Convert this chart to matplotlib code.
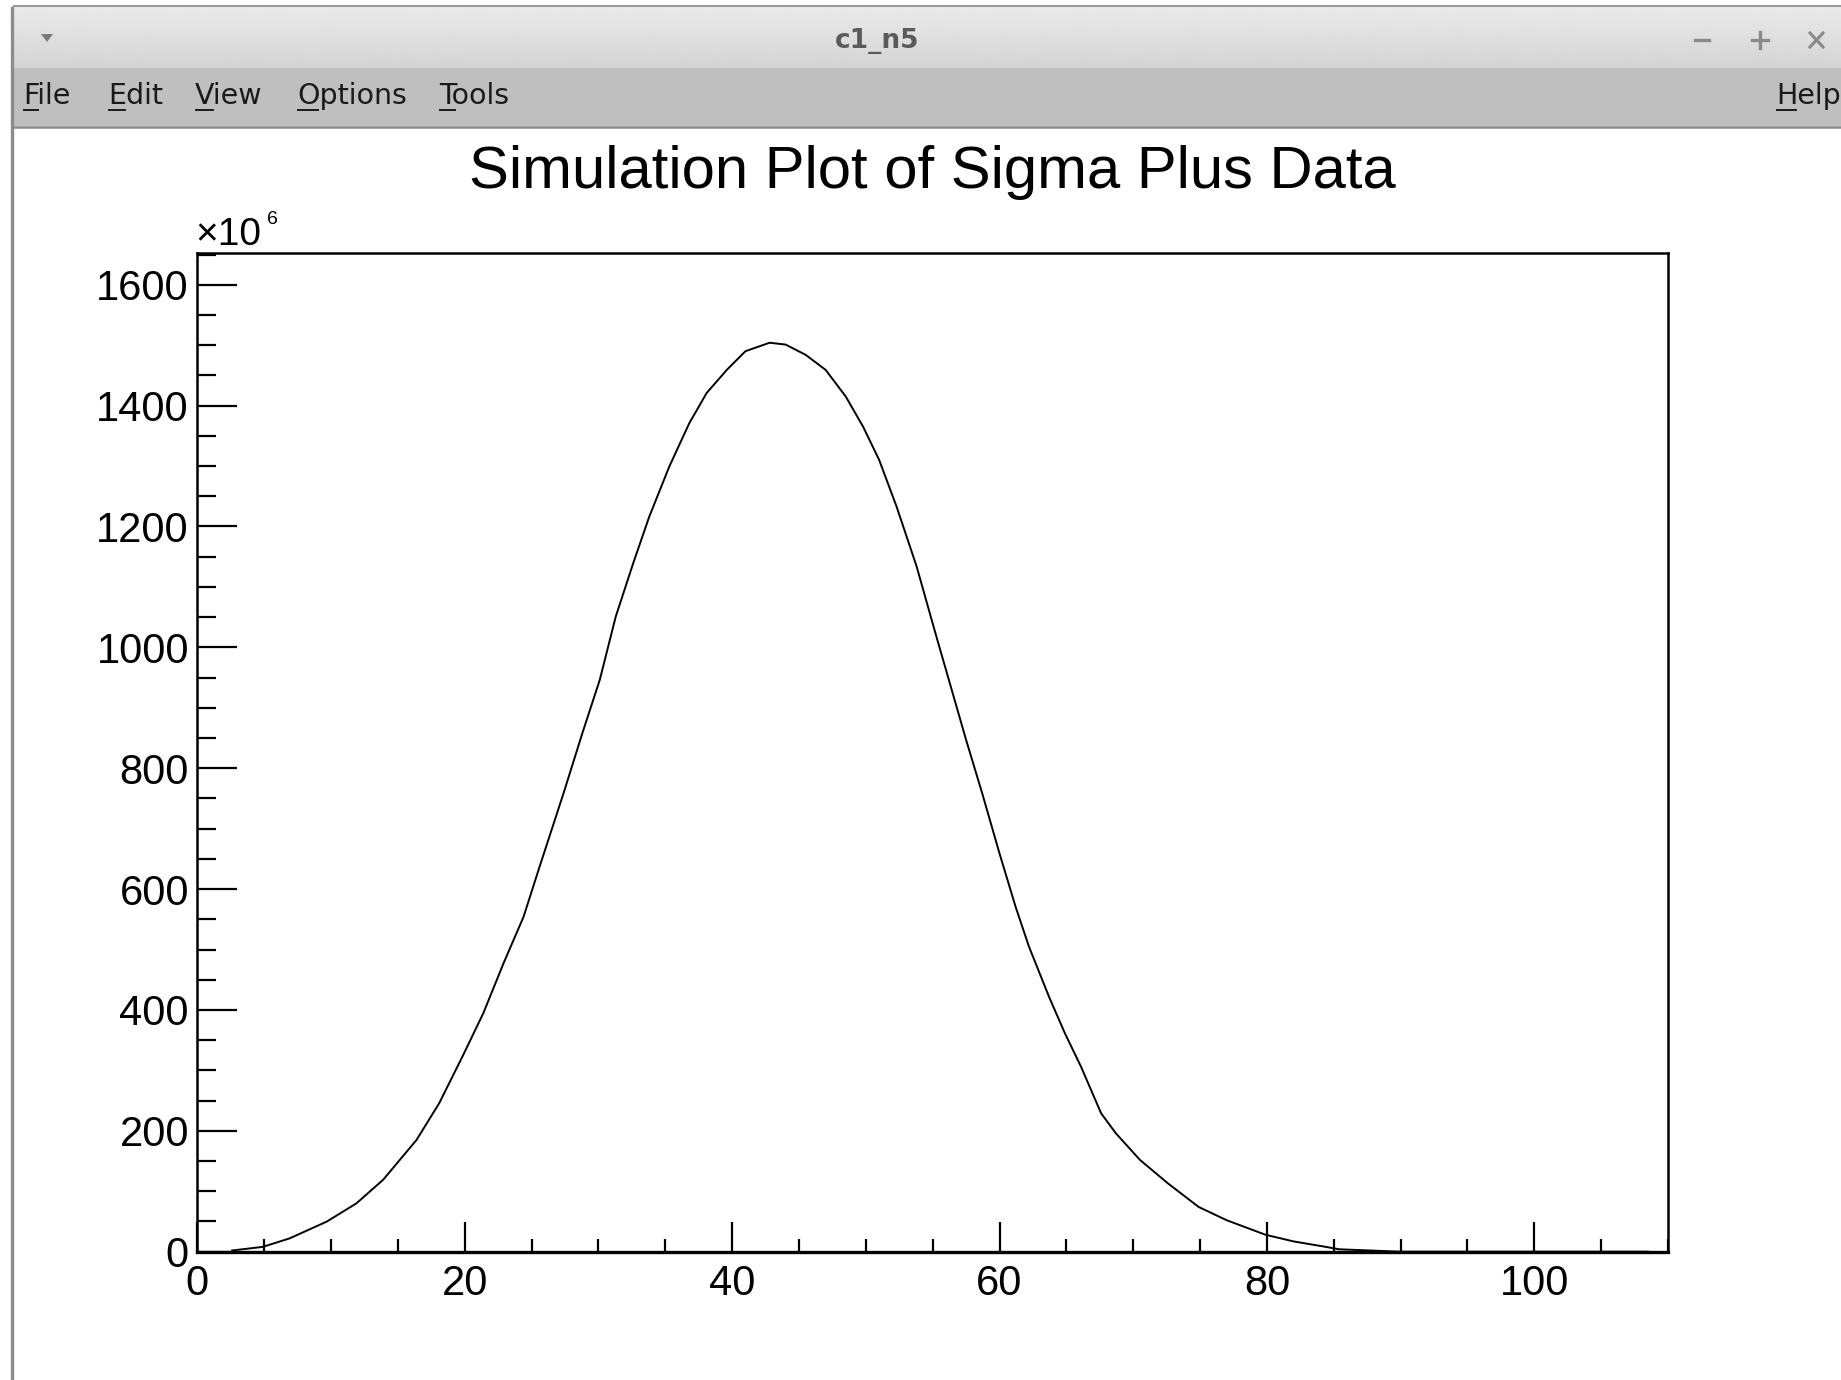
"""ROOT canvas screenshot: simulation plot of Sigma Plus data."""

import matplotlib

matplotlib.use("Agg")
import matplotlib.pyplot as plt
import numpy as np
from matplotlib.patches import Polygon, Rectangle
from matplotlib.ticker import MultipleLocator

# curve (x in axis units, y in units of 1e6)
x_vals = [2.6, 4.9, 6.9, 9.7, 11.9, 13.9, 16.4, 18.1, 19.9, 21.4, 22.9, 24.4,
          25.6, 27.4, 28.8, 30.1, 31.3, 32.6, 33.8, 35.3, 36.8, 38.1, 39.6, 41.0,
          42.8, 44.0, 45.5, 47.0, 48.5, 49.8, 51.0, 52.3, 53.8, 55.2, 56.5, 57.5,
          58.7, 60.0, 61.2, 62.2, 63.7, 64.9, 66.1, 67.6, 68.7, 70.5, 72.6, 74.9,
          77.0, 79.9, 82.0, 84.4, 85.4, 90.0, 95.0, 100.0, 105.0, 108.5]
y_vals = [2, 8, 22, 50, 80, 119, 185, 246, 326, 395, 477, 554,
          637, 759, 858, 946, 1051, 1139, 1216, 1299, 1371, 1421, 1459, 1490,
          1504, 1501, 1484, 1459, 1415, 1365, 1310, 1233, 1134, 1024, 924, 847,
          759, 659, 571, 505, 422, 361, 306, 229, 196, 152, 113, 74,
          52, 28, 17, 8, 4, 0, 0, 0, 0, 0]

title = "Simulation Plot of Sigma Plus Data"
window_title = "c1_n5"
menu_items = [("File", 23), ("Edit", 108), ("View", 195), ("Options", 297),
              ("Tools", 439), ("Help", 1776)]

W, H = 1841, 1380
SANS = ["Liberation Sans", "DejaVu Sans"]


def _draw_chrome(fig, chrome):
    # title bar with a soft vertical gradient
    grad = np.linspace(0.92, 0.83, 64)[:, None]
    chrome.imshow(grad, extent=(12, W, 68, 6), aspect="auto", cmap="gray",
                  vmin=0, vmax=1, interpolation="bilinear", zorder=1)
    chrome.add_patch(Rectangle((12, 68), W - 12, 58, facecolor="#bfbfbf",
                               edgecolor="none", zorder=1))
    chrome.plot([14, W], [6, 6], color="#9a9a9a", lw=1.5, zorder=2)
    chrome.plot([12, W], [126.5, 126.5], color="#8a8a8a", lw=1.8, zorder=2)
    chrome.plot([12, 12], [8, H], color="#8c8c8c", lw=2.4, zorder=2)

    chrome.add_patch(Polygon([(41, 34), (53, 34), (47, 42)], closed=True,
                             facecolor="#7a7a7a", edgecolor="none", zorder=3))
    chrome.text(877, 41, window_title, ha="center", va="center", fontsize=19,
                fontweight="bold", color="#5a5a5a", family="DejaVu Sans", zorder=3)

    # window buttons
    gray = "#8a8a8a"
    chrome.plot([1695, 1709], [40, 40], color=gray, lw=2.4, zorder=3)
    chrome.plot([1752, 1768], [40, 40], color=gray, lw=2.4, zorder=3)
    chrome.plot([1760, 1760], [32, 48], color=gray, lw=2.4, zorder=3)
    chrome.plot([1810, 1823], [33, 47], color=gray, lw=2.2, zorder=3)
    chrome.plot([1810, 1823], [47, 33], color=gray, lw=2.2, zorder=3)

    renderer = fig.canvas.get_renderer()
    inv = chrome.transData.inverted()
    for label, x in menu_items:
        chrome.text(x, 104, label, ha="left", va="baseline", fontsize=20.5,
                    color="#1a1a1a", family="DejaVu Sans", zorder=3)
        first = chrome.text(x, 104, label[0], ha="left", va="baseline",
                            fontsize=20.5, family="DejaVu Sans", alpha=0)
        bb = first.get_window_extent(renderer)
        x0, _ = inv.transform((bb.x0, bb.y0))
        x1, _ = inv.transform((bb.x1, bb.y0))
        first.remove()
        chrome.plot([x0 + 1, x1 - 1], [110, 110], color="#1a1a1a", lw=1.4, zorder=3)


def main():
    fig = plt.figure(figsize=(W / 100, H / 100), dpi=100)
    fig.patch.set_facecolor("white")

    chrome = fig.add_axes([0, 0, 1, 1])
    chrome.set_xlim(0, W)
    chrome.set_ylim(H, 0)
    chrome.axis("off")
    _draw_chrome(fig, chrome)

    left, right, top, bottom = 197.3, 1668.0, 253.3, 1251.7
    ax = fig.add_axes([left / W, 1 - bottom / H, (right - left) / W, (bottom - top) / H])
    ax.plot(x_vals, y_vals, color="black", lw=1.4, zorder=3)

    ax.set_xlim(0, 110)
    ax.set_ylim(0, 1652)
    ax.xaxis.set_major_locator(MultipleLocator(20))
    ax.xaxis.set_minor_locator(MultipleLocator(5))
    ax.yaxis.set_major_locator(MultipleLocator(200))
    ax.yaxis.set_minor_locator(MultipleLocator(50))

    for side, spine in ax.spines.items():
        spine.set_linewidth(2.4 if side == "bottom" else 1.8)
    ax.tick_params(axis="both", which="both", direction="in", top=False, right=False,
                   width=1.6, colors="black")
    ax.tick_params(axis="x", which="major", length=21.5, pad=9, labelsize=30)
    ax.tick_params(axis="x", which="minor", length=9.5)
    ax.tick_params(axis="y", which="major", length=28.8, pad=6, labelsize=30)
    ax.tick_params(axis="y", which="minor", length=13.7)
    for lab in ax.get_xticklabels() + ax.get_yticklabels():
        lab.set_family(SANS)

    # exponent multiplier above the y axis
    chrome.text(195, 245, "\u00d710", ha="left", va="baseline", fontsize=28,
                family=SANS, zorder=3)
    chrome.text(267, 224, "6", ha="left", va="baseline", fontsize=14,
                family=SANS, zorder=3)

    chrome.text((left + right) / 2, 188, title, ha="center", va="baseline",
                fontsize=43, family=SANS, zorder=3)

    fig.savefig("out.png", dpi=100)
    plt.close(fig)


if __name__ == "__main__":
    main()
